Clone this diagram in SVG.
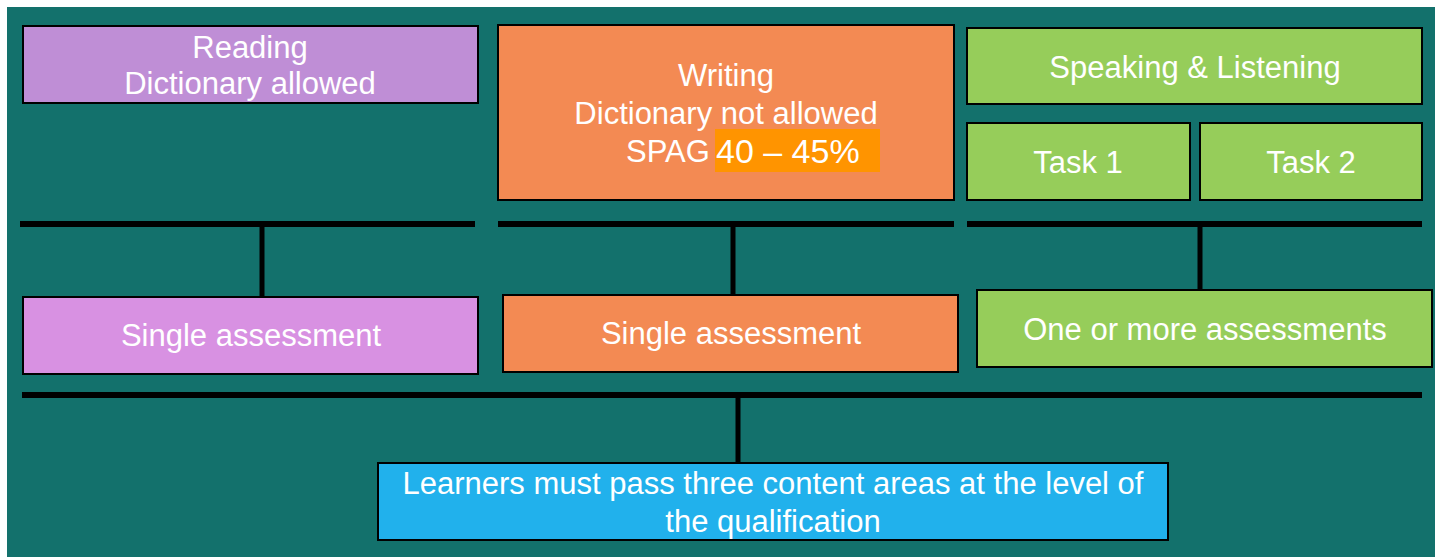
<svg xmlns="http://www.w3.org/2000/svg" width="1435" height="557" viewBox="0 0 1435 557">
<style>
.box{stroke:#000;stroke-width:2}
.t{font-family:"Liberation Sans",Arial,sans-serif;font-size:31px;fill:#fff;text-anchor:middle}
.bar{stroke:#000;stroke-width:6;fill:none}
.vl{stroke:#000;stroke-width:5;fill:none}
</style>
<rect x="0" y="0" width="1435" height="557" fill="#fff"/>
<rect x="7" y="7" width="1428" height="550" fill="#13716C"/>
<g id="connectors">
<line class="bar" x1="20" y1="224" x2="475" y2="224"/>
<line class="bar" x1="498" y1="224" x2="954" y2="224"/>
<line class="bar" x1="967" y1="224" x2="1422" y2="224"/>
<line class="vl" x1="262" y1="224" x2="262" y2="297"/>
<line class="vl" x1="733" y1="224" x2="733" y2="295"/>
<line class="vl" x1="1200" y1="224" x2="1200" y2="290"/>
<line class="bar" x1="22" y1="395" x2="1422" y2="395"/>
<line class="vl" x1="738" y1="395" x2="738" y2="463"/>
</g>
<g id="reading">
<rect class="box" x="23" y="26" width="455" height="77" fill="#BF8ED6"/>
<text class="t" x="250" y="58">Reading</text>
<text class="t" x="250" y="94">Dictionary allowed</text>
</g>
<g id="writing">
<rect class="box" x="498" y="25" width="456" height="175" fill="#F38A53"/>
<rect x="715" y="129" width="165" height="43" fill="#FF9400"/>
<text class="t" x="726" y="86">Writing</text>
<text class="t" x="726" y="124">Dictionary not allowed</text>
<text class="t" x="626" y="162" style="text-anchor:start">SPAG</text>
<text class="t" x="716" y="163" style="text-anchor:start;font-size:34px">40 – 45%</text>
</g>
<g id="speaking">
<rect class="box" x="967" y="28" width="455" height="76" fill="#96CD5A"/>
<text class="t" x="1195" y="78">Speaking &amp; Listening</text>
</g>
<g id="task1">
<rect class="box" x="967" y="123" width="223" height="77" fill="#96CD5A"/>
<text class="t" x="1078" y="173">Task 1</text>
</g>
<g id="task2">
<rect class="box" x="1200" y="123" width="222" height="77" fill="#96CD5A"/>
<text class="t" x="1311" y="173">Task 2</text>
</g>
<g id="single1">
<rect class="box" x="23" y="297" width="455" height="77" fill="#D891E2"/>
<text class="t" x="251" y="346">Single assessment</text>
</g>
<g id="single2">
<rect class="box" x="503" y="295" width="455" height="77" fill="#F38A53"/>
<text class="t" x="731" y="344">Single assessment</text>
</g>
<g id="oneormore">
<rect class="box" x="977" y="290" width="455" height="77" fill="#96CD5A"/>
<text class="t" x="1205" y="340">One or more assessments</text>
</g>
<g id="learners">
<rect class="box" x="378" y="463" width="790" height="77" fill="#21B1EC"/>
<text class="t" x="773" y="494">Learners must pass three content areas at the level of</text>
<text class="t" x="773" y="532">the qualification</text>
</g>
</svg>
